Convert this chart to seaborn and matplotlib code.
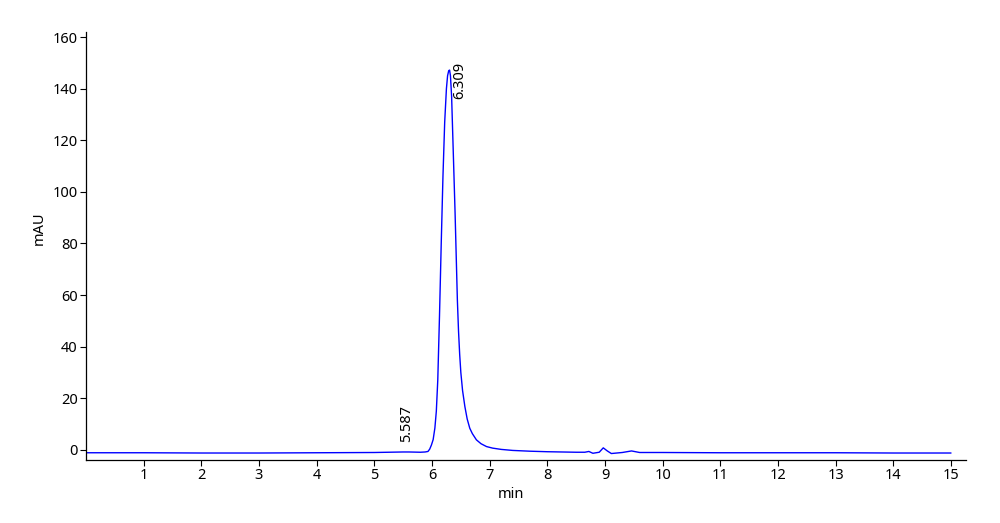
import pandas as pd
import matplotlib.pyplot as plt
import seaborn as sns

# retention time (min) and absorbance (mAU)
time_min = [0.0, 1.0, 2.0, 3.0, 4.0, 5.0, 5.5, 5.6, 5.8, 5.88, 5.93, 5.96,
            5.99, 6.02, 6.05, 6.075, 6.10, 6.13, 6.16, 6.19, 6.22, 6.25, 6.27,
            6.29, 6.305, 6.32, 6.34, 6.36, 6.38, 6.40, 6.42, 6.44, 6.46, 6.48,
            6.50, 6.53, 6.57, 6.61, 6.655, 6.70, 6.77, 6.85, 6.945, 7.05, 7.2,
            7.4, 7.7, 8.0, 8.5, 8.65, 8.72, 8.79, 8.9, 8.97, 9.04, 9.11, 9.3,
            9.46, 9.6, 10.0, 11.0, 12.0, 13.0, 14.0, 15.0]
absorbance = [-1.1, -1.1, -1.2, -1.2, -1.1, -1.0, -0.8, -0.8, -0.9, -0.8,
              -0.6, 0.3, 1.9, 4.0, 8.5, 15.0, 27.0, 52.0, 80.0, 106.0, 127.0,
              140.0, 145.0, 147.0, 147.2, 145.0, 137.0, 122.0, 107.0, 92.0,
              75.0, 58.0, 46.0, 37.0, 30.0, 23.0, 16.8, 12.0, 8.4, 6.3, 3.9,
              2.4, 1.3, 0.7, 0.2, -0.2, -0.5, -0.7, -0.9, -0.9, -0.6, -1.3,
              -0.9, 0.8, -0.4, -1.4, -1.0, -0.4, -1.0, -1.0, -1.1, -1.1, -1.1,
              -1.2, -1.2]

# peak labels
peak_rt = [5.587, 6.309]
peak_text_x = [5.56, 6.48]
peak_text_y = [3.1, 150.5]
peak_va = ['bottom', 'top']

df = pd.DataFrame({'min': time_min, 'mAU': absorbance})

sns.set_style('ticks')
plt.rcParams['font.family'] = ['Noto Sans', 'DejaVu Sans']
plt.rcParams['text.color'] = 'black'
plt.rcParams['axes.labelcolor'] = 'black'
plt.rcParams['xtick.color'] = 'black'
plt.rcParams['ytick.color'] = 'black'
plt.rcParams['axes.edgecolor'] = 'black'

fig = plt.figure(figsize=(10, 5.23), dpi=100)
ax = fig.add_axes([0.086, 0.1205, 0.88, 0.8185])

sns.lineplot(x='min', y='mAU', data=df, color='#0000ff', linewidth=1.0, ax=ax)

for rt, tx, ty, va in zip(peak_rt, peak_text_x, peak_text_y, peak_va):
    ax.text(tx, ty, f'{rt:.3f}', rotation=90, ha='center', va=va, fontsize=10.5)

ax.set_xlim(0, 15.26)
ax.set_ylim(-3.9, 162)
ax.set_xticks(range(1, 16))
ax.set_yticks(range(0, 161, 20))
ax.tick_params(labelsize=10.5, length=4, width=0.8, pad=2)
ax.set_xlabel('min', fontsize=10.5)
ax.set_ylabel('mAU', fontsize=10.5)
ax.xaxis.set_label_coords(0.483, -0.062)
ax.yaxis.set_label_coords(-0.045, 0.542)
sns.despine(ax=ax)
for s in ['left', 'bottom']:
    ax.spines[s].set_linewidth(0.9)

plt.savefig('out.png', dpi=100)
